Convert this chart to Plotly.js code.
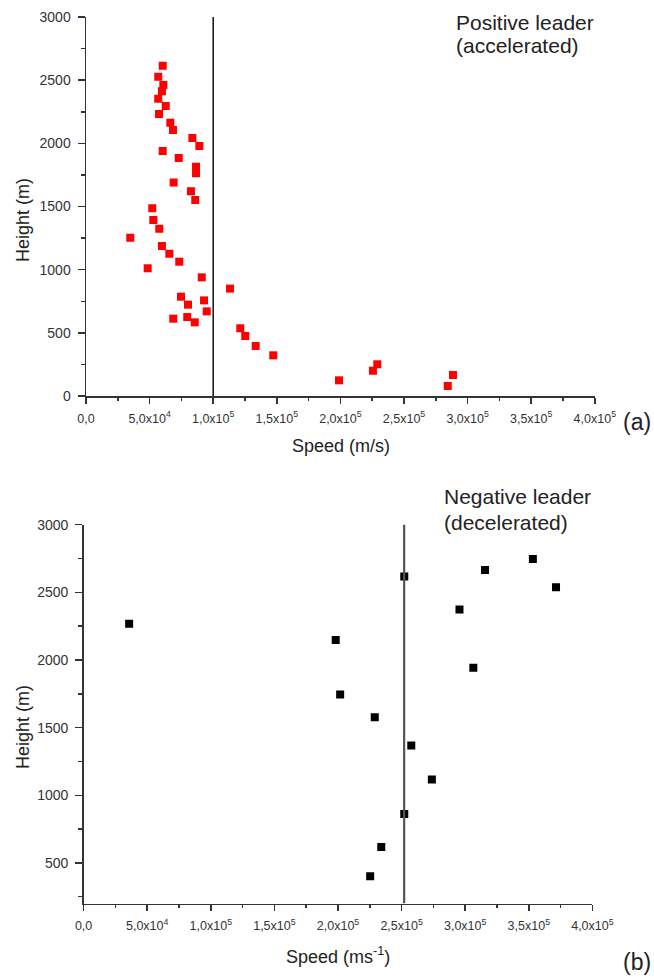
<!DOCTYPE html>
<html>
<head>
<meta charset="utf-8">
<script src="https://cdn.plot.ly/plotly-3.0.1.min.js"></script>
<style>html,body{margin:0;padding:0;background:#fff;}#chart{width:654px;height:978px;}</style>
</head>
<body>
<div id="chart"></div>
<script>
// Positive leader (accelerated) — speed (m/s), height (m)
const posSpeed = [60300, 56800, 60800, 59700, 56800, 62700, 57400, 66300, 68400, 83600,
  89100, 60300, 72900, 86500, 86500, 68900, 82500, 85900, 52100, 52900,
  57600, 34800, 59700, 65500, 73300, 48500, 91000, 113200, 74700, 92800,
  80200, 94900, 68600, 79600, 85500, 121300, 125200, 133400, 147200, 198900,
  225600, 229000, 284400, 288500];
const posHeight = [2615, 2528, 2462, 2412, 2353, 2296, 2232, 2163, 2106, 2042,
  1979, 1939, 1884, 1815, 1763, 1689, 1620, 1551, 1486, 1393,
  1324, 1253, 1187, 1126, 1063, 1011, 939, 850, 786, 757,
  723, 670, 612, 625, 583, 536, 475, 396, 322, 124,
  200, 251, 79, 166];

// Negative leader (decelerated)
const negSpeed = [35800, 198200, 201700, 228900, 252100, 257600, 273800, 252100, 234000, 225300,
  295500, 306400, 315600, 353200, 371400];
const negHeight = [2268, 2148, 1744, 1576, 2618, 1367, 1116, 862, 618, 401,
  2374, 1943, 2665, 2746, 2537];

// Reference speed lines
const refSpeedA = [100000];
const refSpeedB = [252000];

// Tick labels
const xTickVals = [0, 50000, 100000, 150000, 200000, 250000, 300000, 350000, 400000];
const xTickText = ["0,0", "5,0x10<sup>4</sup>", "1,0x10<sup>5</sup>", "1,5x10<sup>5</sup>",
  "2,0x10<sup>5</sup>", "2,5x10<sup>5</sup>", "3,0x10<sup>5</sup>", "3,5x10<sup>5</sup>", "4,0x10<sup>5</sup>"];
const xMinorVals = [25000, 75000, 125000, 175000, 225000, 275000, 325000, 375000];

const W = 654, H = 978;
const FONT = "Arial, 'Liberation Sans', sans-serif";
const px = v => v / W;
const py = v => 1 - v / H;

function xAxis(domain) {
  return {
    domain: domain, range: [0, 400000], showgrid: false, zeroline: false,
    showline: true, linecolor: '#333', linewidth: 1.5, mirror: false,
    ticks: 'outside', ticklen: 6, tickwidth: 1.5, tickcolor: '#333',
    tickmode: 'array', tickvals: xTickVals, ticktext: xTickText,
    tickfont: {family: FONT, size: 12.5, color: '#333'},
    ticklabelstandoff: 4,
    minor: {ticks: 'outside', ticklen: 3, tickwidth: 1.5, tickcolor: '#333', tickvals: xMinorVals, showgrid: false},
    fixedrange: true
  };
}
function yAxis(domain, range, vals) {
  return {
    domain: domain, range: range, showgrid: false, zeroline: false,
    showline: true, linecolor: '#333', linewidth: 1.5,
    ticks: 'outside', ticklen: 7, tickwidth: 1.5, tickcolor: '#333',
    tickmode: 'array', tickvals: vals,
    tickfont: {family: FONT, size: 14, color: '#333'},
    ticklabelstandoff: 4,
    minor: {ticks: 'outside', ticklen: 4, tickwidth: 1.5, tickcolor: '#333', dtick: 250, showgrid: false},
    fixedrange: true
  };
}

const traces = [
  {x: posSpeed, y: posHeight, xaxis: 'x', yaxis: 'y', type: 'scatter', mode: 'markers',
   marker: {symbol: 'square', size: 8, color: '#ff0000', line: {width: 0}}, hoverinfo: 'x+y'},
  {x: negSpeed, y: negHeight, xaxis: 'x2', yaxis: 'y2', type: 'scatter', mode: 'markers',
   marker: {symbol: 'square', size: 8, color: '#000000', line: {width: 0}}, hoverinfo: 'x+y'}
];

const ann = (text, x, y, size, xanchor, extra) => Object.assign({
  text: text, xref: 'paper', yref: 'paper', x: px(x), y: py(y), xanchor: xanchor, yanchor: 'middle',
  showarrow: false, font: {family: FONT, size: size, color: '#222'}
}, extra || {});

const layout = {
  width: W, height: H, margin: {l: 0, r: 0, t: 0, b: 0},
  paper_bgcolor: '#fff', plot_bgcolor: '#fff', showlegend: false,
  xaxis: Object.assign(xAxis([px(86), px(594.8)]), {anchor: 'y'}),
  yaxis: Object.assign(yAxis([py(396), py(17)], [0, 3000], [0, 500, 1000, 1500, 2000, 2500, 3000]), {anchor: 'x'}),
  xaxis2: Object.assign(xAxis([px(83.6), px(592.4)]), {anchor: 'y2'}),
  yaxis2: Object.assign(yAxis([py(903.5), py(524.7)], [200, 3000], [500, 1000, 1500, 2000, 2500, 3000]), {anchor: 'x2'}),
  shapes: [
    {type: 'line', xref: 'x', yref: 'y', x0: refSpeedA[0], x1: refSpeedA[0], y0: 0, y1: 3000,
     line: {color: '#111', width: 1.5}},
    {type: 'line', xref: 'x2', yref: 'y2', x0: refSpeedB[0], x1: refSpeedB[0], y0: 200, y1: 3040,
     line: {color: '#555', width: 2.2}}
  ],
  annotations: [
    ann('Positive leader', 454, 22, 21, 'left'),
    ann('(accelerated)', 454, 46, 21, 'left'),
    ann('Negative leader', 442, 496, 21, 'left'),
    ann('(decelerated)', 442, 522, 21, 'left'),
    ann('Speed (m/s)', 341, 446, 18, 'center'),
    ann('Speed (ms<sup>-1</sup>)', 338, 955, 18, 'center'),
    ann('Height (m)', 23, 220, 18, 'center', {textangle: -90}),
    ann('Height (m)', 23, 727, 18, 'center', {textangle: -90}),
    ann('(a)', 637, 422, 23, 'center'),
    ann('(b)', 637, 962, 23, 'center')
  ]
};

Plotly.newPlot('chart', traces, layout, {staticPlot: true, displayModeBar: false});
</script>
</body>
</html>
